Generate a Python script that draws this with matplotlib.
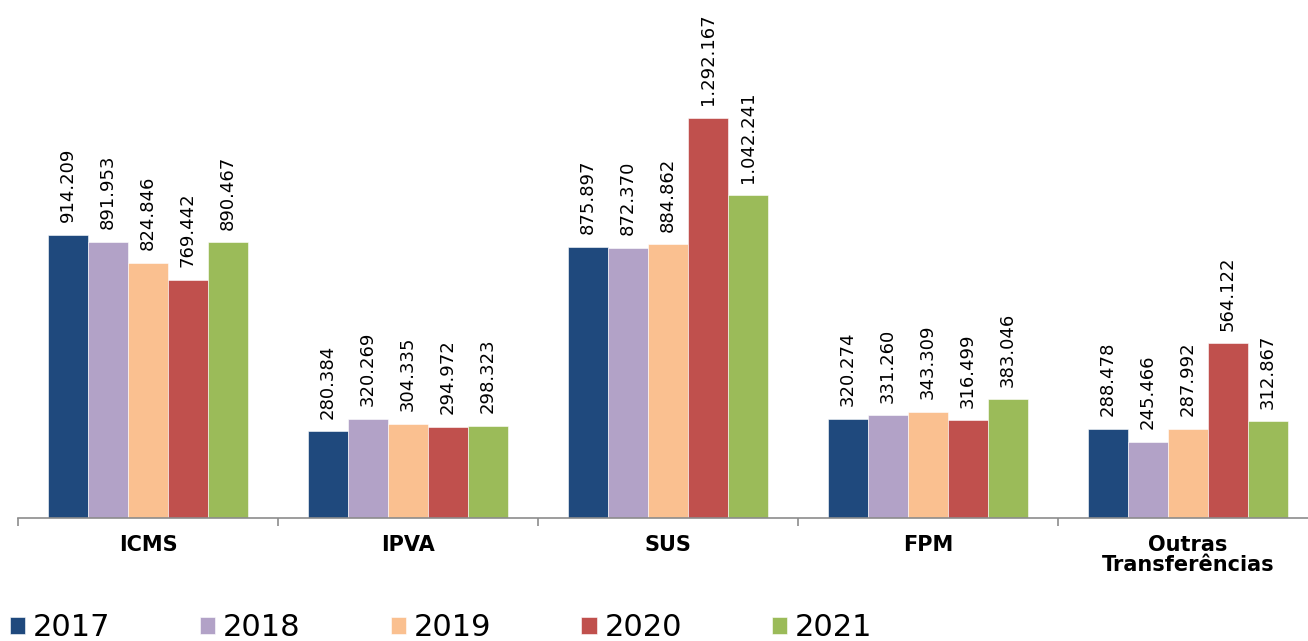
import numpy as np
import matplotlib
matplotlib.use("Agg")
import matplotlib.pyplot as plt
from matplotlib.ticker import FixedLocator, NullFormatter, FixedFormatter

categorias = ["ICMS", "IPVA", "SUS", "FPM", "Outras\nTransferências"]
anos = ["2017", "2018", "2019", "2020", "2021"]
cores = ["#1F497D", "#B2A2C7", "#FAC090", "#C0504D", "#9BBB59"]

valores_2017 = [914209, 280384, 875897, 320274, 288478]
valores_2018 = [891953, 320269, 872370, 331260, 245466]
valores_2019 = [824846, 304335, 884862, 343309, 287992]
valores_2020 = [769442, 294972, 1292167, 316499, 564122]
valores_2021 = [890467, 298323, 1042241, 383046, 312867]

series = [valores_2017, valores_2018, valores_2019, valores_2020, valores_2021]


def formatar(v):
    return f"{v:,}".replace(",", ".")


fig = plt.figure(figsize=(13.08, 6.41), dpi=100)
ax = fig.add_axes([18 / 1308, 123 / 641, 1300 / 1308, 518 / 641])

bar_width = 40 / 260
x = np.arange(len(categorias))
for i, (ano, valores, cor) in enumerate(zip(anos, series, cores)):
    pos = x + (i - 2) * bar_width
    ax.bar(pos, valores, width=bar_width, color=cor, label=ano,
           edgecolor="white", linewidth=0.4)
    for px, v in zip(pos, valores):
        ax.annotate(formatar(v), (px, v), xytext=(0, 9), textcoords="offset points",
                    rotation=90, ha="center", va="bottom", fontsize=13,
                    color="black")

ax.set_xlim(-0.5, len(categorias) - 0.5)
ax.set_ylim(0, 1673000)

for s in ["top", "right", "left"]:
    ax.spines[s].set_visible(False)
ax.spines["bottom"].set_color("#8c8c8c")
ax.spines["bottom"].set_linewidth(1.2)
ax.set_yticks([])

# ticks nas divisões, rótulos no centro de cada grupo
ax.xaxis.set_major_locator(FixedLocator(np.arange(len(categorias) + 1) - 0.5))
ax.xaxis.set_major_formatter(NullFormatter())
ax.xaxis.set_minor_locator(FixedLocator(x))
ax.xaxis.set_minor_formatter(FixedFormatter(categorias))
ax.tick_params(axis="x", which="major", length=6, color="#8c8c8c", width=1.2)
ax.tick_params(axis="x", which="minor", length=0, pad=12)
for lbl in ax.get_xticklabels(minor=True):
    lbl.set_fontsize(15)
    lbl.set_fontweight("bold")
    lbl.set_linespacing(1.05)

leg = fig.legend(loc="lower left", bbox_to_anchor=(-0.002, -0.021), ncol=5,
                 frameon=False, fontsize=22, handlelength=0.5, handleheight=0.5,
                 handletextpad=0.25, columnspacing=2.95, borderaxespad=0)

fig.savefig("out.png", dpi=100)
